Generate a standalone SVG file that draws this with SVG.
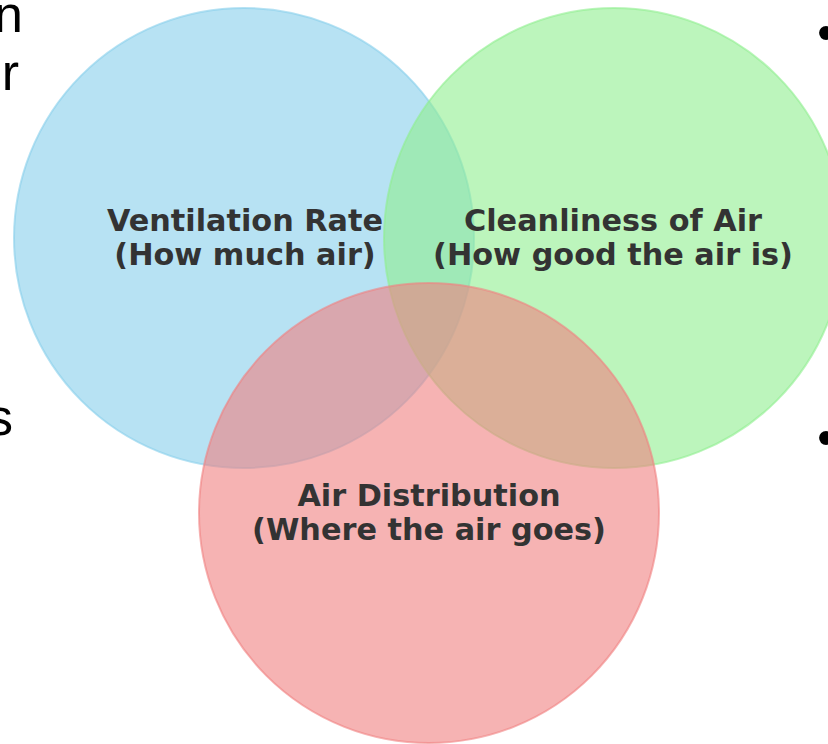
<svg xmlns="http://www.w3.org/2000/svg" width="828" height="744" viewBox="0 0 828 744">
<style>
.c{stroke-width:2;}
.lbl{font-family:"DejaVu Sans",sans-serif;font-weight:bold;font-size:30.3px;fill:#333333;text-anchor:middle;}
.edge{font-family:"Liberation Sans",Arial,sans-serif;font-size:52px;fill:#000000;}
</style>
<rect width="828" height="744" fill="#ffffff"/>
<g id="edge-text">
<text class="edge" x="23" y="32" text-anchor="end">n</text>
<text class="edge" x="19" y="90" text-anchor="end">r</text>
<text class="edge" x="13" y="435" text-anchor="end">s</text>
<text class="edge" x="817" y="50">•</text>
<text class="edge" x="817" y="455">•</text>
</g>
<g id="circle-ventilation">
<circle class="c" cx="244" cy="238" r="230" fill="#87ceeb" fill-opacity="0.6" stroke="#87ceeb" stroke-opacity="0.6"/>
</g>
<g id="circle-cleanliness">
<circle class="c" cx="614" cy="238" r="230" fill="#90ee90" fill-opacity="0.6" stroke="#90ee90" stroke-opacity="0.6"/>
</g>
<g id="circle-distribution">
<circle class="c" cx="429" cy="513" r="230" fill="#f08080" fill-opacity="0.6" stroke="#f08080" stroke-opacity="0.6"/>
</g>
<g id="connectors"></g>
<g id="labels">
<text class="lbl" x="245" y="231">Ventilation Rate</text>
<text class="lbl" x="245" y="265">(How much air)</text>
<text class="lbl" x="613" y="231">Cleanliness of Air</text>
<text class="lbl" x="613" y="265">(How good the air is)</text>
<text class="lbl" x="429" y="506">Air Distribution</text>
<text class="lbl" x="429" y="540">(Where the air goes)</text>
</g>
</svg>
